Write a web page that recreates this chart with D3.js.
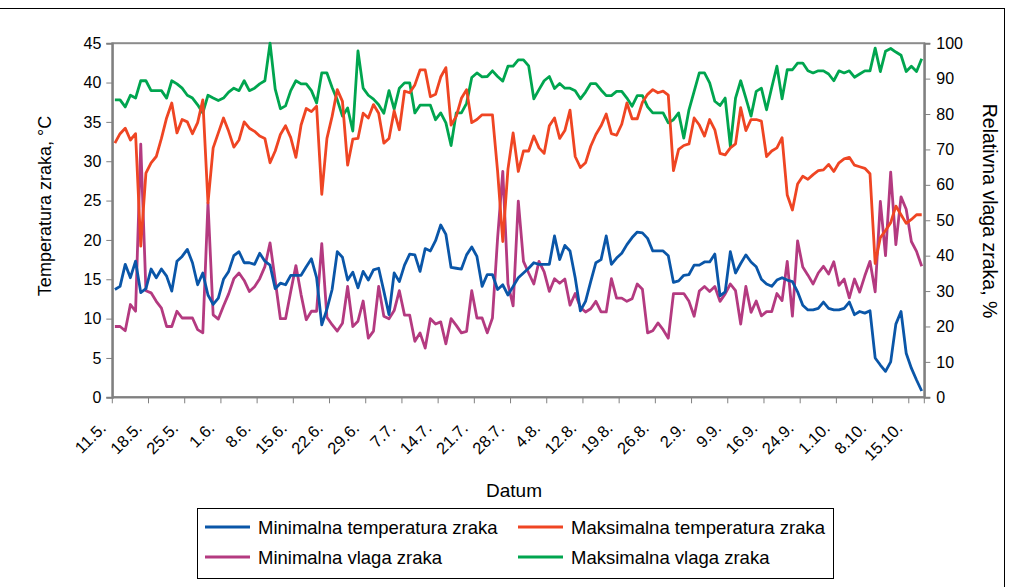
<!DOCTYPE html>
<html><head><meta charset="utf-8">
<script src="https://cdn.jsdelivr.net/npm/d3@7/dist/d3.min.js"></script>
<style>
body{margin:0;background:#fff}
text{font-family:"Liberation Sans",Arial,sans-serif;fill:#000}
</style>
</head><body>
<svg id="chart" width="1013" height="587"></svg>
<script>
const dates = [
"11.5.","12.5.","13.5.","14.5.","15.5.","16.5.","17.5.","18.5.","19.5.","20.5.","21.5.","22.5.","23.5.","24.5.","25.5.","26.5.","27.5.","28.5.","29.5.","30.5.","31.5.",
"1.6.","2.6.","3.6.","4.6.","5.6.","6.6.","7.6.","8.6.","9.6.","10.6.","11.6.","12.6.","13.6.","14.6.","15.6.","16.6.","17.6.","18.6.","19.6.","20.6.","21.6.","22.6.","23.6.","24.6.","25.6.","26.6.","27.6.","28.6.","29.6.","30.6.",
"1.7.","2.7.","4.7.","5.7.","6.7.","7.7.","8.7.","9.7.","10.7.","11.7.","12.7.","13.7.","14.7.","15.7.","16.7.","17.7.","18.7.","19.7.","20.7.","21.7.","22.7.","23.7.","24.7.","25.7.","26.7.","27.7.","28.7.","29.7.","30.7.","31.7.",
"1.8.","2.8.","3.8.","4.8.","5.8.","6.8.","7.8.","9.8.","10.8.","11.8.","12.8.","13.8.","14.8.","15.8.","16.8.","17.8.","18.8.","19.8.","20.8.","21.8.","22.8.","23.8.","24.8.","25.8.","26.8.","27.8.","28.8.","29.8.","30.8.","31.8.",
"1.9.","2.9.","3.9.","4.9.","5.9.","6.9.","7.9.","8.9.","9.9.","10.9.","11.9.","12.9.","13.9.","14.9.","15.9.","16.9.","17.9.","18.9.","19.9.","21.9.","22.9.","23.9.","24.9.","25.9.","26.9.","27.9.","28.9.","29.9.","30.9.",
"1.10.","2.10.","3.10.","4.10.","5.10.","6.10.","7.10.","8.10.","9.10.","10.10.","11.10.","12.10.","13.10.","14.10.","15.10.","16.10.","17.10."
];
const tickLabels = ["11.5.","18.5.","25.5.","1.6.","8.6.","15.6.","22.6.","29.6.","7.7.","14.7.","21.7.","28.7.","4.8.","12.8.","19.8.","26.8.","2.9.","9.9.","16.9.","24.9.","1.10.","8.10.","15.10."];
const tempTicks = [0,5,10,15,20,25,30,35,40,45];
const humTicks = [0,10,20,30,40,50,60,70,80,90,100];

const minTemp = [13.7,14.1,16.9,15.2,17.3,13.3,13.8,16.3,15.2,16.3,
15.4,13.5,17.3,17.9,18.8,17.1,14.3,15.8,13.0,11.8,
12.6,15.0,16.0,18.0,18.5,17.1,17.1,16.9,18.3,17.3,
16.8,13.8,14.5,14.3,15.5,15.5,15.5,16.6,17.6,15.2,
9.2,11.2,13.7,18.5,17.8,14.9,15.9,13.9,16.0,14.9,
16.2,16.4,13.5,10.5,15.8,14.7,16.8,18.2,18.1,16.0,
18.9,18.6,19.9,21.9,20.7,16.5,16.4,16.3,18.1,19.1,
17.9,14.1,15.6,15.6,13.7,14.3,13.0,14.1,15.2,15.8,
16.4,17.1,16.9,16.9,16.9,20.5,17.5,19.3,18.6,15.2,
11.0,12.2,14.7,17.1,17.5,20.5,16.9,17.7,18.3,19.4,
20.3,21.0,20.9,20.2,18.6,18.6,18.6,18.0,14.6,14.8,
15.5,15.6,16.8,16.8,17.2,17.2,18.2,12.9,13.4,18.5,
15.8,17.0,18.1,17.2,16.6,15.0,14.4,14.1,14.9,15.2,
14.9,14.7,13.4,11.7,11.1,11.1,11.3,12.1,11.3,11.1,
11.1,11.3,12.1,10.5,10.9,10.7,11.0,5.0,4.1,3.3,
4.5,9.3,10.9,5.6,3.7,2.2,0.8];

const maxTemp = [32.3,33.5,34.2,32.7,33.5,19.2,28.5,29.8,30.6,32.9,
35.5,37.4,33.6,35.3,35.0,33.5,34.9,37.8,24.7,31.7,
33.6,35.5,33.8,31.8,32.7,35.0,34.2,33.8,33.2,32.9,
29.8,31.3,33.4,34.5,33.0,30.5,34.6,36.7,36.3,37.0,
25.8,32.9,35.7,39.1,37.6,29.5,32.8,32.9,36.1,35.5,
37.2,36.1,32.3,32.9,36.4,34.0,38.9,38.7,39.7,41.6,
41.6,38.2,38.5,40.7,41.9,34.6,35.7,38.0,39.1,34.9,
35.3,35.9,35.9,35.9,28.7,19.8,29.0,33.6,28.7,31.3,
31.3,33.2,31.7,31.0,34.5,35.5,32.9,33.9,36.5,30.6,
29.2,29.8,31.9,33.4,34.5,36.0,33.5,33.3,34.7,37.4,
35.4,35.4,37.5,38.5,39.1,38.7,38.9,38.4,28.8,31.5,
32.0,32.2,35.5,34.6,33.2,35.3,34.0,31.0,30.8,31.7,
32.2,36.8,33.9,35.3,35.3,35.1,30.6,31.3,31.7,33.0,
25.7,23.8,27.1,28.1,27.7,28.3,28.8,28.9,29.6,28.7,
29.8,30.3,30.5,29.5,29.3,29.1,28.4,17.0,20.3,21.2,
22.2,24.3,23.2,22.1,22.6,23.2,23.2];

const minHum = [20.0,20.0,18.8,26.2,24.3,71.5,30.1,29.5,27.1,25.2,
20.0,20.0,24.3,22.4,22.4,22.4,19.1,18.2,54.9,23.3,
22.1,25.8,29.2,33.5,35.1,33.0,29.9,31.2,33.5,36.9,
43.6,33.0,22.2,22.2,29.9,37.2,29.0,21.9,24.3,24.3,
43.4,22.6,20.5,18.7,20.9,31.3,20.0,21.5,27.2,16.7,
18.7,31.3,22.9,22.2,24.5,30.1,23.2,23.2,15.8,18.2,
13.9,22.2,20.7,21.3,15.1,22.2,20.3,18.2,18.6,30.1,
22.4,22.4,18.2,22.4,45.0,63.8,32.0,25.8,55.4,38.4,
35.1,32.0,38.4,35.4,29.9,33.5,32.2,33.4,26.0,29.3,
25.4,24.1,25.0,27.1,24.1,24.1,33.5,28.0,28.0,27.1,
27.8,32.0,30.5,18.2,18.8,21.0,19.1,16.7,29.3,29.3,
29.3,27.1,22.9,30.0,31.3,29.9,31.3,27.1,29.2,32.0,
30.1,20.7,31.3,24.0,27.2,23.0,24.2,24.2,29.3,27.3,
38.4,22.9,44.2,36.8,34.5,32.0,35.1,37.0,34.8,38.3,
31.6,33.4,28.1,33.4,29.7,34.3,38.4,29.8,55.3,40.0,
63.6,43.1,56.6,53.1,44.0,41.2,37.0];

const maxHum = [84.0,84.0,82.0,85.3,84.5,89.4,89.4,86.6,86.6,86.6,
84.5,89.4,88.5,87.3,85.3,84.5,82.6,80.3,85.3,84.5,
83.8,84.5,86.2,87.3,86.6,89.4,86.6,87.3,88.5,89.4,
100.0,87.0,81.5,82.3,86.6,89.4,88.5,88.5,86.6,83.1,
91.6,91.6,87.5,84.0,79.4,81.7,75.2,97.8,87.3,85.3,
84.2,82.6,80.2,86.6,81.4,87.3,88.8,88.8,80.3,82.5,
82.5,82.5,78.4,80.3,77.5,71.1,80.3,80.3,83.0,90.3,
91.6,90.5,90.6,92.2,90.6,89.3,93.5,93.5,95.3,95.3,
93.6,84.3,86.9,89.4,90.6,87.2,88.6,87.3,87.3,86.6,
84.3,86.2,88.6,88.6,86.8,85.2,85.2,86.4,86.4,84.5,
82.2,85.2,85.2,82.0,80.3,80.3,80.3,77.5,78.4,80.3,
73.2,81.2,86.4,91.6,91.6,88.8,83.6,82.4,84.5,70.9,
84.5,89.4,84.5,79.4,86.4,87.3,81.2,87.5,93.5,84.3,
92.5,92.5,94.4,94.4,92.2,91.6,92.2,92.2,91.3,89.4,
92.2,91.6,92.2,90.4,91.3,92.2,92.2,98.6,92.0,97.7,
98.5,97.5,96.6,92.0,93.5,92.0,95.6];

const seriesNames = ["Minimalna temperatura zraka","Maksimalna temperatura zraka","Minimalna vlaga zraka","Maksimalna vlaga zraka"];
const seriesColors = ["#0A56A8","#EF4523","#B43A80","#00A54F"];

const svg = d3.select("#chart");
const L = 112.3, R = 924.3, T = 43.2, B = 397.3;

const x = d3.scaleBand().domain(dates).range([L, R]).padding(0);
const xc = d => x(d) + x.bandwidth() / 2;
const yT = d3.scaleLinear().domain([0, 45]).range([B, T]);
const yH = d3.scaleLinear().domain([0, 100]).range([B, T]);

// outer frame
svg.append("rect").attr("x", -2).attr("y", 8.5).attr("width", 1006.5).attr("height", 600)
  .attr("fill", "none").attr("stroke", "#000").attr("stroke-width", 1);

// plot area border
svg.append("rect").attr("x", L).attr("y", T).attr("width", R - L).attr("height", B - T)
  .attr("fill", "none").attr("stroke", "#8c8c8c").attr("stroke-width", 2);

// left axis
const gL = svg.append("g").attr("transform", `translate(${L},0)`)
  .call(d3.axisLeft(yT).tickValues(tempTicks).tickSize(6).tickPadding(5).tickFormat(d3.format("d")));
// right axis
const gR = svg.append("g").attr("transform", `translate(${R},0)`)
  .call(d3.axisRight(yH).tickValues(humTicks).tickSize(6).tickPadding(6).tickFormat(d3.format("d")));
[gL, gR].forEach(g => {
  g.select(".domain").attr("stroke", "#808080").attr("stroke-width", 2);
  g.selectAll(".tick line").attr("stroke", "#808080").attr("stroke-width", 1);
  g.selectAll(".tick text").style("font-size", "16px").attr("fill", "#000")
    .style("font-family", '"Liberation Sans",Arial,sans-serif');
});

// bottom axis: ticks at category boundaries every 7 categories
const tickIdx = tickLabels.map(t => dates.indexOf(t));
const gB = svg.append("g");
gB.append("line").attr("x1", L).attr("x2", R).attr("y1", B).attr("y2", B)
  .attr("stroke", "#808080").attr("stroke-width", 2);
gB.selectAll("line.tk").data(tickIdx.concat([dates.length])).join("line").attr("class", "tk")
  .attr("x1", i => i < dates.length ? x(dates[i]) : R).attr("x2", i => i < dates.length ? x(dates[i]) : R)
  .attr("y1", B).attr("y2", B + 6).attr("stroke", "#808080").attr("stroke-width", 1);
gB.selectAll("text").data(tickLabels).join("text")
  .attr("text-anchor", "end")
  .attr("transform", d => `translate(${xc(d) - 8},${B + 32}) rotate(-45)`)
  .style("font-size", "16.5px").text(d => d);

// lines
const series = [
  {v: minTemp, y: yT}, {v: maxTemp, y: yT}, {v: minHum, y: yH}, {v: maxHum, y: yH}
];
const drawOrder = [3, 2, 1, 0];
drawOrder.forEach(k => {
  const s = series[k];
  const line = d3.line().x((d, i) => xc(dates[i])).y(d => s.y(d));
  svg.append("path").datum(s.v).attr("d", line).attr("fill", "none")
    .attr("stroke", seriesColors[k]).attr("stroke-width", 2.8).attr("stroke-linejoin", "round");
});

// axis titles
svg.append("text").attr("transform", `translate(51,206) rotate(-90)`)
  .attr("text-anchor", "middle").style("font-size", "18px").text("Temperatura zraka, °C");
svg.append("text").attr("transform", `translate(983,211) rotate(90)`)
  .attr("text-anchor", "middle").style("font-size", "19.5px").text("Relativna vlaga zraka, %");
svg.append("text").attr("x", 514).attr("y", 497).attr("text-anchor", "middle")
  .style("font-size", "19px").text("Datum");

// legend
const lg = svg.append("g");
lg.append("rect").attr("x", 197.5).attr("y", 508.5).attr("width", 636).attr("height", 70)
  .attr("fill", "#fff").attr("stroke", "#000").attr("stroke-width", 1);
const legPos = [[205, 527], [518, 527], [205, 557], [518, 557]];
seriesNames.forEach((n, k) => {
  const [lx, ly] = legPos[k];
  lg.append("line").attr("x1", lx).attr("x2", lx + 45).attr("y1", ly).attr("y2", ly)
    .attr("stroke", seriesColors[k]).attr("stroke-width", 2.8);
  lg.append("text").attr("x", lx + 53).attr("y", ly + 6.5).style("font-size", "18.5px").text(n);
});
</script>
</body></html>
